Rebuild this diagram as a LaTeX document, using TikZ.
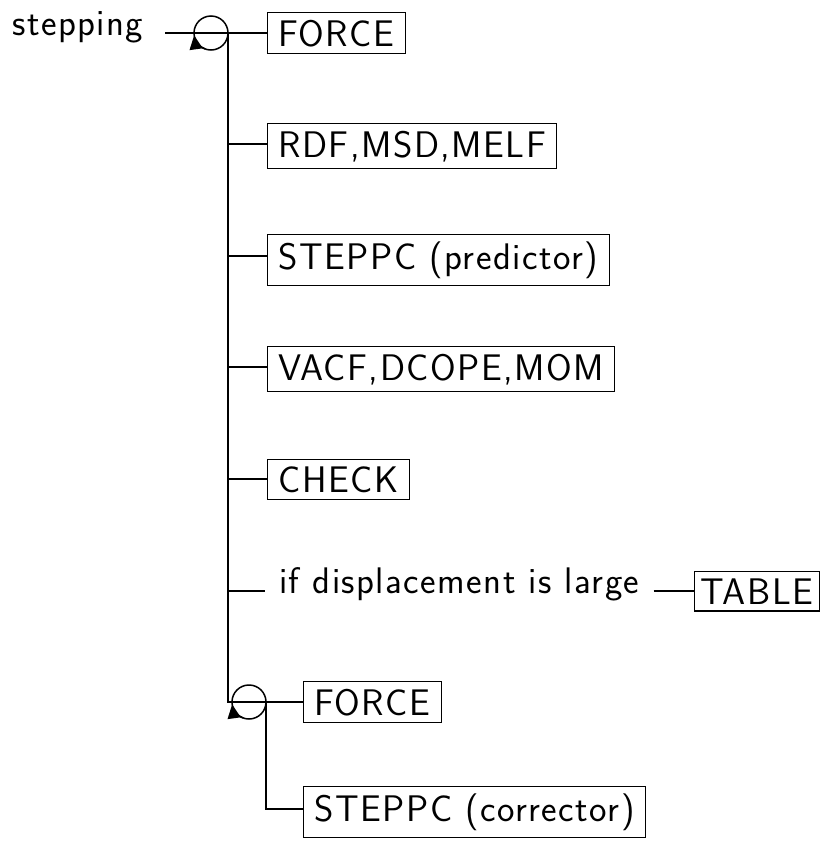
\documentclass[tikz,border=0pt]{standalone}
\usepackage{fontspec}
\newfontfamily\diafont{lmsans17-regular.otf}[LetterSpace=4]
\usetikzlibrary{arrows.meta}
\begin{document}
\begin{tikzpicture}[x=1pt,y=1pt,
  every node/.style={font=\diafont\fontsize{37}{42}\selectfont},
  box/.style={draw, line width=1.1pt, inner xsep=11pt, inner ysep=7pt, anchor=base west},
  ln/.style={line width=1.5pt},
  loopc/.style={draw, circle, line width=1.5pt, minimum size=34pt, inner sep=0pt, outer sep=0pt},
  looptip/.style={line width=1.5pt, -{Triangle[length=14pt,width=13pt]}}]
\useasboundingbox (0,0) rectangle (830,-841);
% row coordinates on the trunk
\coordinate (r1) at (228,-33);
\coordinate (r2) at (228,-144);
\coordinate (r3) at (228,-256);
\coordinate (r4) at (228,-367);
\coordinate (r5) at (228,-479);
\coordinate (r6) at (228,-591);
\coordinate (r7) at (228,-702);
\coordinate (r8) at (266,-809);
% nodes
\node[anchor=mid west, inner sep=0pt] (step) at (12,-33) {stepping};
\node[loopc] (c1) at (211,-33) {};
\node[box] (f1) at (267,-46) {FORCE};
\node[box] (rdf) at (267,-157) {RDF,MSD,MELF};
\node[box] (pred) at (267,-269) {STEPPC (predictor)};
\node[box] (vacf) at (267,-380) {VACF,DCOPE,MOM};
\node[box] (chk) at (267,-492) {CHECK};
\node[anchor=mid west, inner xsep=14pt, inner ysep=0pt] (cond) at (265,-591) {if displacement is large};
\node[box, inner xsep=6pt] (tab) at (694,-604) {TABLE};
\node[loopc] (c2) at (249,-702) {};
\node[box] (f2) at (303,-715) {FORCE};
\node[box] (corr) at (303,-821) {STEPPC (corrector)};
% connectors
\draw[line width=2.4pt] ([xshift=22pt]step.mid east) -- (r1 -| f1.west);
\draw[ln] (r1) -- (r7) -- (c2.west);
\draw[ln] (r2) -- (r2 -| rdf.west);
\draw[ln] (r3) -- (r3 -| pred.west);
\draw[ln] (r4) -- (r4 -| vacf.west);
\draw[ln] (r5) -- (r5 -| chk.west);
\draw[ln] (r6) -- (cond.mid west);
\draw[ln] (cond.mid east) -- (cond.mid east -| tab.west);
\draw[ln] (c2.west) -- (c2.west -| f2.west);
\draw[ln] (c2.east) -- (r8) -- (r8 -| corr.west);
% loop arrows
\draw[looptip] (c1.250) arc[start angle=250, end angle=188, radius=17pt];
\draw[looptip] (c2.250) arc[start angle=250, end angle=188, radius=17pt];
\end{tikzpicture}
\end{document}
